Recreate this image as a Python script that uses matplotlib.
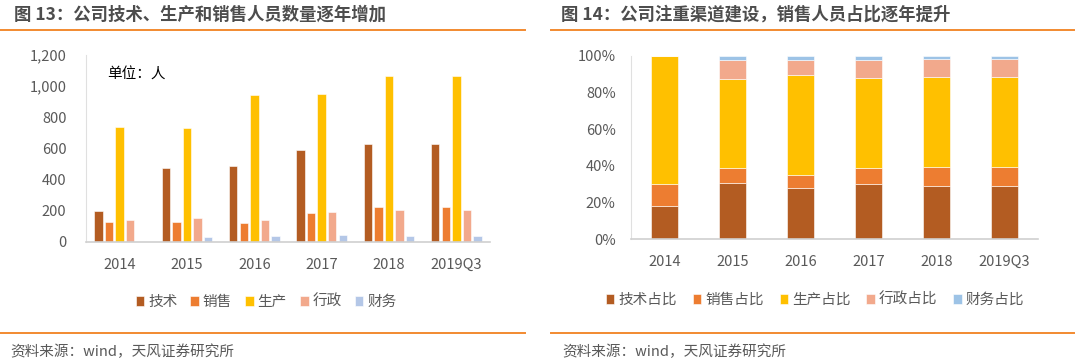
import numpy as np
import matplotlib
matplotlib.use("Agg")
import matplotlib.pyplot as plt
from matplotlib.lines import Line2D

plt.rcParams['font.family'] = ['Noto Sans CJK SC', 'DejaVu Sans']

# data
years = ['2014', '2015', '2016', '2017', '2018', '2019Q3']
tech = [195, 474, 489, 587, 630, 630]
sales = [128, 124, 122, 184, 221, 221]
prod = [737, 733, 941, 951, 1063, 1063]
admin = [139, 154, 137, 193, 201, 201]
fin = [0, 32, 34, 39, 34, 34]

tech_pct = [18.3, 30.5, 27.9, 29.9, 28.9, 28.9]
sales_pct = [11.8, 8.5, 7.1, 9.1, 10.3, 10.3]
prod_pct = [69.9, 48.3, 54.5, 48.8, 49.4, 49.4]
admin_pct = [0, 10.2, 8.0, 9.8, 9.6, 9.6]
fin_pct = [0, 2.5, 2.5, 2.4, 1.8, 1.8]

names1 = ['技术', '销售', '生产', '行政', '财务']
names2 = ['技术占比', '销售占比', '生产占比', '行政占比', '财务占比']
colors1 = ['#B35C22', '#ED7D31', '#FFC000', '#F2A98C', '#B4C7E7']
colors2 = ['#B35C22', '#ED7D31', '#FFC000', '#F2A98C', '#9DC3E6']

W, H = 1080, 362
fig = plt.figure(figsize=(W / 100, H / 100), dpi=100)
gray = '#595959'
orange = '#F28A30'

def px(x0, y0, x1, y1):
    return [x0 / W, 1 - y1 / H, (x1 - x0) / W, (y1 - y0) / H]

# ---------- left chart ----------
ax1 = fig.add_axes(px(86, 55, 490, 241.5))
x = np.arange(len(years))
series = [tech, sales, prod, admin, fin]
pitch = 0.157
for i, s in enumerate(series):
    ax1.bar(x + (i - 2) * pitch, s, width=0.125, color=colors1[i],
            edgecolor='white', linewidth=0.4, label=names1[i])
ax1.set_xlim(-0.5, 5.5)
ax1.set_ylim(0, 1200)
ax1.set_yticks(range(0, 1201, 200))
ax1.set_yticklabels(['{:,}'.format(v) for v in range(0, 1201, 200)])
ax1.set_xticks(x)
ax1.set_xticklabels(years)
ax1.tick_params(axis='y', length=0, pad=14, labelsize=10.5, labelcolor=gray)
ax1.tick_params(axis='x', length=0, pad=12, labelsize=10.5, labelcolor=gray)
for sp in ['top', 'right']:
    ax1.spines[sp].set_visible(False)
ax1.spines['left'].set_color('#E0E0E0')
ax1.spines['bottom'].set_color('#D0D0D0')
ax1.spines['bottom'].set_linewidth(1.2)
fig.text(107 / W, 1 - 75 / H, '单位：人', fontsize=10.5, color='#000000',
         va='center', ha='left')

fig.legend(*ax1.get_legend_handles_labels(), loc='center', bbox_to_anchor=(266 / W, 1 - 302 / H),
           ncol=5, frameon=False, fontsize=10.5, handlelength=0.6, handleheight=0.6,
           handletextpad=0.25, columnspacing=0.9, labelcolor=gray)

# ---------- right chart ----------
ax2 = fig.add_axes(px(631, 55.7, 1038, 239.3))
pcts = [tech_pct, sales_pct, prod_pct, admin_pct, fin_pct]
bottom = np.zeros(len(years))
for i, s in enumerate(pcts):
    ax2.bar(x, s, width=0.4, bottom=bottom, color=colors2[i],
            edgecolor='white', linewidth=0.4, label=names2[i])
    bottom += np.array(s)
ax2.set_xlim(-0.5, 5.5)
ax2.set_ylim(0, 100)
ax2.set_yticks(range(0, 101, 20))
ax2.set_yticklabels(['{}%'.format(v) for v in range(0, 101, 20)])
ax2.set_xticks(x)
ax2.set_xticklabels(years)
ax2.tick_params(axis='y', length=0, pad=11, labelsize=10.5, labelcolor=gray)
ax2.tick_params(axis='x', length=0, pad=11, labelsize=10.5, labelcolor=gray)
for sp in ['top', 'right']:
    ax2.spines[sp].set_visible(False)
ax2.spines['left'].set_color('#E0E0E0')
ax2.spines['bottom'].set_color('#D0D0D0')
ax2.spines['bottom'].set_linewidth(1.2)

fig.legend(*ax2.get_legend_handles_labels(), loc='center', bbox_to_anchor=(815 / W, 1 - 300 / H),
           ncol=5, frameon=False, fontsize=10.5, handlelength=0.6, handleheight=0.6,
           handletextpad=0.25, columnspacing=1.1, labelcolor=gray)

# ---------- titles, rules, sources ----------
fig.text(14 / W, 1 - 15 / H, '图 13：公司技术、生产和销售人员数量逐年增加', fontsize=12.5,
         fontweight='bold', color='#4D4D4D', va='center', ha='left')
fig.text(561 / W, 1 - 15 / H, '图 14：公司注重渠道建设，销售人员占比逐年提升', fontsize=12.5,
         fontweight='bold', color='#4D4D4D', va='center', ha='left')
for (a, b) in [(0, 525), (551, 1074)]:
    for yy in (30, 333):
        fig.add_artist(Line2D([a / W, b / W], [1 - yy / H, 1 - yy / H], color=orange, lw=1.4))
fig.text(10 / W, 1 - 352 / H, '资料来源：wind，天风证券研究所', fontsize=10.5, color=gray,
         va='center', ha='left')
fig.text(562 / W, 1 - 352 / H, '资料来源：wind，天风证券研究所', fontsize=10.5, color=gray,
         va='center', ha='left')

fig.savefig('out.png', dpi=100, facecolor='white')
